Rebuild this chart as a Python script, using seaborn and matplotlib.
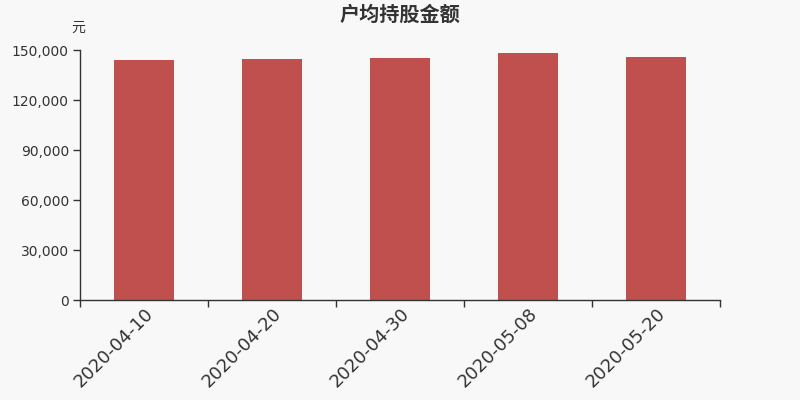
import numpy as np
import pandas as pd
import matplotlib
matplotlib.use('Agg')
import matplotlib.pyplot as plt
import seaborn as sns
from matplotlib.ticker import FuncFormatter, FixedLocator

dates = ['2020-04-10', '2020-04-20', '2020-04-30', '2020-05-08', '2020-05-20']
amounts = [144300, 144600, 145200, 148200, 145800]

sns.set_style('white')
plt.rcParams['font.family'] = ['Noto Sans CJK SC', 'DejaVu Sans']

bg = '#f8f8f8'
fig = plt.figure(figsize=(8, 4), dpi=100, facecolor=bg)
ax = fig.add_axes([0.1, 0.25, 0.8, 0.625], facecolor=bg)

data = pd.DataFrame({'date': dates, 'amount': amounts})
sns.barplot(data=data, x='date', y='amount', color='#c0504d', saturation=1,
            width=0.47, linewidth=0, ax=ax)

ax.set_xlim(-0.5, len(dates) - 0.5)
ax.set_ylim(0, 150000)
ax.set_yticks(np.arange(0, 150001, 30000))
ax.yaxis.set_major_formatter(FuncFormatter(lambda v, p: f'{int(v):,}'))

# ticks on category boundaries, labels under bars
ax.xaxis.set_major_locator(FixedLocator(np.arange(-0.5, len(dates), 1)))
ax.xaxis.set_major_formatter(FuncFormatter(lambda v, p: ''))
ax.xaxis.set_minor_locator(FixedLocator(np.arange(len(dates))))
ax.set_xticklabels(dates, minor=True, rotation=45, ha='right',
                   rotation_mode='anchor', fontsize=13, color='#333333',
                   family='DejaVu Sans')
ax.tick_params(axis='x', which='minor', bottom=True, length=0, pad=3)
ax.tick_params(axis='x', which='major', bottom=True, length=5, width=1,
               color='#333333', direction='out')
ax.tick_params(axis='y', left=True, length=5, width=1, color='#333333',
               direction='out', labelsize=10, labelcolor='#333333', pad=3)
for lab in ax.get_yticklabels():
    lab.set_family('DejaVu Sans')

for s in ['top', 'right']:
    ax.spines[s].set_visible(False)
for s in ['left', 'bottom']:
    ax.spines[s].set_color('#333333')
    ax.spines[s].set_linewidth(1)

ax.set_xlabel('')
ax.set_ylabel('')
fig.text(0.5, 0.965, '户均持股金额', ha='center', va='center', fontsize=14.5,
         fontweight='bold', color='#333333')
fig.text(0.098, 0.93, '元', ha='center', va='center', fontsize=10, color='#333333')

fig.savefig('out.png', dpi=100, facecolor=bg)
